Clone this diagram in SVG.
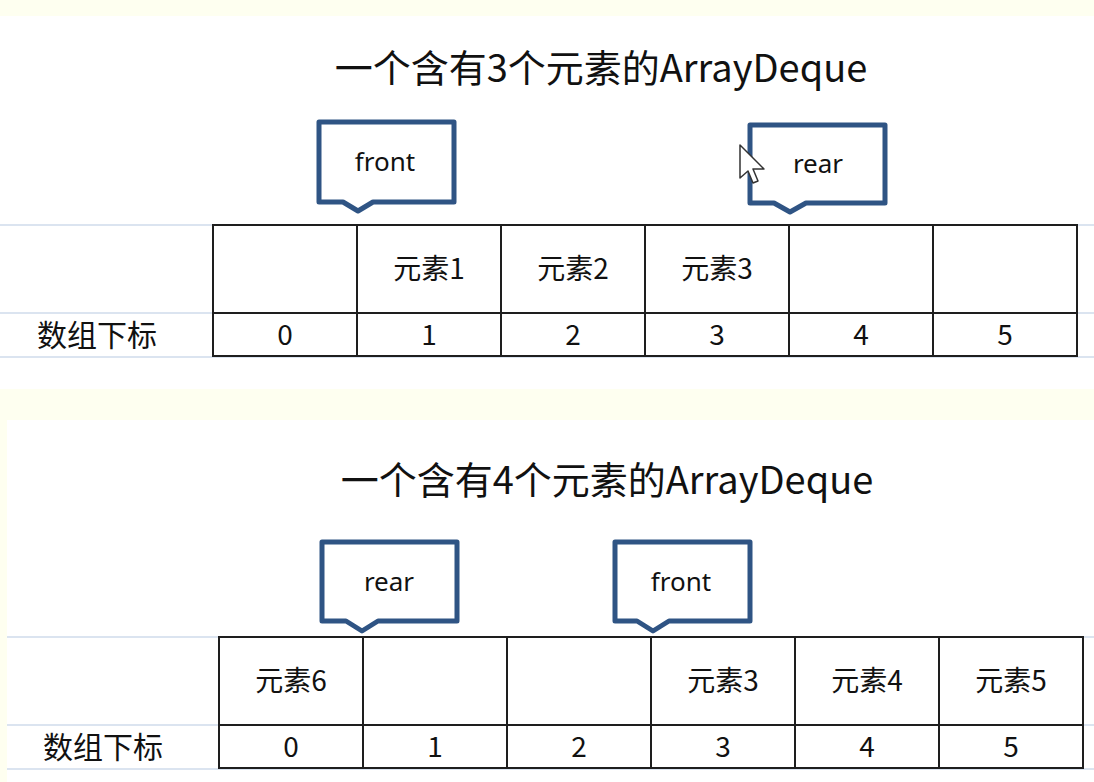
<svg xmlns="http://www.w3.org/2000/svg" width="1094" height="782" viewBox="0 0 1094 782">
<style>
.bg{fill:#fefff0}
.grid{stroke:#dbe4f0;stroke-width:2;fill:none}
.tb{stroke:#1e1e1e;stroke-width:2;fill:none}
.callout{fill:#ffffff;stroke:#2f5484;stroke-width:5;stroke-linejoin:round}
.title{font-family:"Noto Sans CJK SC","Noto Sans",sans-serif;font-size:38px;font-weight:normal;fill:#111;text-anchor:middle}
.cell{font-family:"Noto Sans CJK SC","Noto Sans",sans-serif;font-size:28px;fill:#111;text-anchor:middle}
.hdr{font-family:"Noto Sans CJK SC","Noto Sans",sans-serif;font-size:30px;fill:#111;text-anchor:middle}
.lbl{font-family:"Noto Sans","Open Sans",sans-serif;font-size:26px;fill:#111;text-anchor:middle}
</style>
<rect x="0" y="0" width="1094" height="782" fill="#ffffff"/>
<rect class="bg" x="0" y="0" width="1094" height="16"/>
<rect class="bg" x="0" y="389" width="1094" height="31"/>
<rect class="bg" x="0" y="420" width="7" height="362"/>

<g id="diagram1">
  <text id="title1" class="title" x="601" y="82">一个含有3个元素的ArrayDeque</text>
  <g id="grid1">
    <line class="grid" x1="0" y1="225" x2="1094" y2="225"/>
    <line class="grid" x1="0" y1="313" x2="1094" y2="313"/>
    <line class="grid" x1="0" y1="357" x2="1094" y2="357"/>
  </g>
  <g id="table1">
    <rect class="tb" x="213" y="225" width="864" height="131" fill="#fff"/>
    <line class="tb" x1="213" y1="313" x2="1077" y2="313"/>
    <line class="tb" x1="357" y1="225" x2="357" y2="356"/>
    <line class="tb" x1="501" y1="225" x2="501" y2="356"/>
    <line class="tb" x1="645" y1="225" x2="645" y2="356"/>
    <line class="tb" x1="789" y1="225" x2="789" y2="356"/>
    <line class="tb" x1="933" y1="225" x2="933" y2="356"/>
    <text class="cell" x="429" y="279">元素1</text>
    <text class="cell" x="573" y="279">元素2</text>
    <text class="cell" x="717" y="279">元素3</text>
    <text class="hdr" x="97" y="346">数组下标</text>
    <text class="cell" x="285" y="345">0</text>
    <text class="cell" x="429" y="345">1</text>
    <text class="cell" x="573" y="345">2</text>
    <text class="cell" x="717" y="345">3</text>
    <text class="cell" x="861" y="345">4</text>
    <text class="cell" x="1005" y="345">5</text>
  </g>
  <g id="front1">
    <path class="callout" d="M319,122 H454 V202 H373 L358,211 L343,202 H319 Z"/>
    <text class="lbl" x="385" y="171">front</text>
  </g>
  <g id="rear1">
    <path class="callout" d="M750,125 H885 V203 H806 L790,212 L774,203 H750 Z"/>
    <text class="lbl" x="818" y="173">rear</text>
  </g>
  <g id="cursor">
    <path d="M740,145 L740,178 L748,171 L753,183 L758,181 L753,169 L764,169 Z" fill="#ffffff" stroke="#333" stroke-width="1.5" stroke-linejoin="round"/>
  </g>
</g>

<g id="diagram2">
  <text id="title2" class="title" x="607" y="494">一个含有4个元素的ArrayDeque</text>
  <g id="grid2">
    <line class="grid" x1="7" y1="637" x2="1094" y2="637"/>
    <line class="grid" x1="7" y1="725" x2="1094" y2="725"/>
    <line class="grid" x1="7" y1="769" x2="1094" y2="769"/>
  </g>
  <g id="table2">
    <rect class="tb" x="219" y="637" width="864" height="131" fill="#fff"/>
    <line class="tb" x1="219" y1="725" x2="1083" y2="725"/>
    <line class="tb" x1="363" y1="637" x2="363" y2="768"/>
    <line class="tb" x1="507" y1="637" x2="507" y2="768"/>
    <line class="tb" x1="651" y1="637" x2="651" y2="768"/>
    <line class="tb" x1="795" y1="637" x2="795" y2="768"/>
    <line class="tb" x1="939" y1="637" x2="939" y2="768"/>
    <text class="cell" x="291" y="691">元素6</text>
    <text class="cell" x="723" y="691">元素3</text>
    <text class="cell" x="867" y="691">元素4</text>
    <text class="cell" x="1011" y="691">元素5</text>
    <text class="hdr" x="103" y="758">数组下标</text>
    <text class="cell" x="291" y="757">0</text>
    <text class="cell" x="435" y="757">1</text>
    <text class="cell" x="579" y="757">2</text>
    <text class="cell" x="723" y="757">3</text>
    <text class="cell" x="867" y="757">4</text>
    <text class="cell" x="1011" y="757">5</text>
  </g>
  <g id="rear2">
    <path class="callout" d="M322,542 H457 V621 H378 L362,631 L346,621 H322 Z"/>
    <text class="lbl" x="389" y="591">rear</text>
  </g>
  <g id="front2">
    <path class="callout" d="M615,542 H750 V621 H669 L653,631 L637,621 H615 Z"/>
    <text class="lbl" x="681" y="591">front</text>
  </g>
</g>
</svg>
